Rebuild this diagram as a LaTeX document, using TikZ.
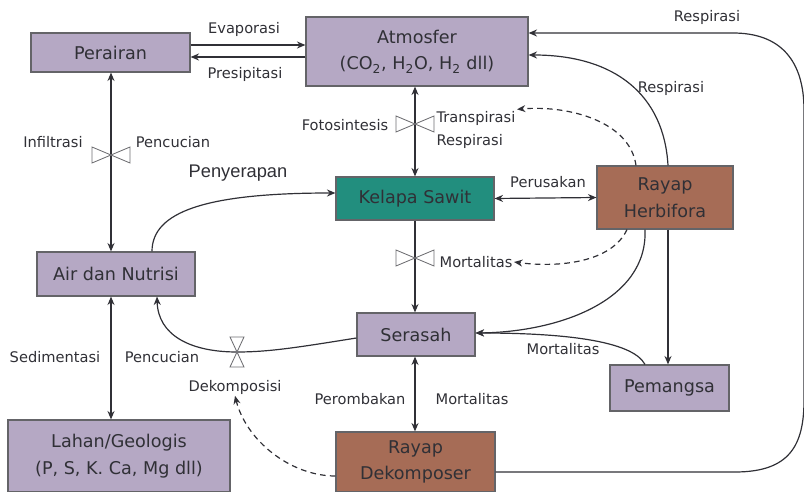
\documentclass[tikz,border=0pt]{standalone}
\usepackage{fontspec}
\setmainfont{DejaVu Sans}
\newfontfamily\arialfont{Liberation Sans}
\usetikzlibrary{positioning}
\usetikzlibrary{arrows.meta}

\definecolor{lavender}{RGB}{181,168,196}
\definecolor{sawitgreen}{RGB}{34,142,126}
\definecolor{rayapbrown}{RGB}{166,108,86}
\definecolor{inkgray}{RGB}{48,48,54}

\begin{document}
\begin{tikzpicture}[x=0.025cm, y=-0.025cm,
    box/.style={draw=inkgray!75, line width=0.8pt, align=center, text=inkgray,
        font=\fontsize{12.5}{19}\selectfont, inner sep=0pt},
    lbl/.style={text=inkgray, align=center, font=\fontsize{10.4}{17}\selectfont, inner sep=1pt},
    flow/.style={draw=inkgray, line width=0.85pt, -{Stealth[length=6pt,width=5pt]}},
    both/.style={flow, {Stealth[length=6pt,width=5pt]}-{Stealth[length=6pt,width=5pt]}},
    hint/.style={flow, dashed, dash pattern=on 4pt off 3pt},
    valve/.style={draw=inkgray!70, fill=white, line width=0.6pt},
    valveh/.pic={\draw[valve] (-19,-8) -- (19,8) -- (19,-8) -- (-19,8) -- cycle;},
    valvev/.pic={\draw[valve] (-7,-15) -- (7,15) -- (-7,15) -- (7,-15) -- cycle;}]
    \useasboundingbox (0,0) rectangle (804,492);

    % boxes
    \node[box, fill=lavender, minimum width=3.975cm, minimum height=0.975cm] (perairan) at (110.5,52.5) {Perairan};
    \node[box, fill=lavender, minimum width=5.55cm, minimum height=1.725cm] (atmosfer) at (417,51.5)
        {Atmosfer\\(CO\textsubscript{2}, H\textsubscript{2}O, H\textsubscript{2} dll)};
    \node[box, fill=sawitgreen, minimum width=3.95cm, minimum height=1.075cm] (sawit) at (415,198.5) {Kelapa Sawit};
    \node[box, fill=rayapbrown, minimum width=3.4cm, minimum height=1.575cm] (herbi) at (665,197.5) {Rayap\\Herbifora};
    \node[box, fill=lavender, minimum width=3.95cm, minimum height=1.1cm] (air) at (116,274) {Air dan Nutrisi};
    \node[box, fill=lavender, minimum width=2.95cm, minimum height=1.075cm] (serasah) at (416,334.5) {Serasah};
    \node[box, fill=lavender, minimum width=2.975cm, minimum height=1.15cm] (pemangsa) at (669.5,388) {Pemangsa};
    \node[box, fill=lavender, minimum width=5.55cm, minimum height=1.8cm] (lahan) at (119,456) {Lahan/Geologis\\(P, S, K. Ca, Mg dll)};
    \node[box, fill=rayapbrown, minimum width=3.975cm, minimum height=1.5cm] (dekomposer) at (415.5,462) {Rayap\\Dekomposer};

    % straight flows
    \draw[flow] (perairan.east |- 0,45) -- (atmosfer.west |- 0,45);
    \draw[flow] (atmosfer.west |- 0,57) -- (perairan.east |- 0,57);
    \draw[both] (perairan.south -| 111,0) -- (air.north -| 111,0);
    \draw[both] (air.south -| 111,0) -- (lahan.north -| 111,0);
    \draw[both] (atmosfer.south -| 415,0) -- (sawit.north -| 415,0);
    \draw[both] (sawit.east) -- (herbi.west);
    \draw[flow] (sawit.south -| 415,0) -- (serasah.north -| 415,0);
    \draw[both] (serasah.south -| 415,0) -- (dekomposer.north -| 415,0);
    \draw[flow] (herbi.south -| 668,0) -- (pemangsa.north -| 668,0);

    % curved flows
    \draw[flow] (air.north -| 152,0) .. controls (152,212) and (205,193) .. (sawit.west |- 0,193);
    \draw[flow] (serasah.west |- 0,338) .. controls (300,347) and (270,352) .. (237,352)
        .. controls (190,352) and (158,335) .. (air.south -| 157,0);
    \draw[flow] (herbi.north -| 668,0) .. controls (664,95) and (615,55) .. (atmosfer.east |- 0,55);
    \draw[flow] (herbi.south -| 645,0) .. controls (648,300) and (560,332) .. (serasah.east |- 0,333);
    \draw[flow] (pemangsa.north -| 645,0) .. controls (632,340) and (560,333) .. (serasah.east |- 0,333);
    \draw[flow] (dekomposer.east |- 0,472) -- (735,472) .. controls (790,472) and (804,445) .. (804,400)
        -- (804,110) .. controls (804,60) and (780,33) .. (733,33) -- (atmosfer.east |- 0,33);

    % valves
    \pic at (111,155) {valveh};
    \pic at (415,124) {valveh};
    \pic at (415,258) {valveh};
    \pic at (237,352) {valvev};

    % labels
    \node[lbl] (evaporasi) at (244,29) {Evaporasi};
    \node[lbl] (presipitasi) at (245,74) {Presipitasi};
    \node[lbl] (infiltrasi) at (53,142) {Infiltrasi};
    \node[lbl] (pencucian1) at (173,142) {Pencucian};
    \node[lbl, font=\arialfont\fontsize{13}{15}\selectfont] (penyerapan) at (238,173) {Penyerapan};
    \node[lbl] (fotosintesis) at (345,125) {Fotosintesis};
    \node[lbl, align=left] (transpirasi) at (476,130) {Transpirasi\\Respirasi};
    \node[lbl] (respirasi1) at (707,17) {Respirasi};
    \node[lbl] (respirasi2) at (671,88) {Respirasi};
    \node[lbl] (perusakan) at (548,182) {Perusakan};
    \node[lbl] (mortalitas1) at (476,262) {Mortalitas};
    \node[lbl] (mortalitas2) at (563,349) {Mortalitas};
    \node[lbl] (mortalitas3) at (472,399) {Mortalitas};
    \node[lbl] (perombakan) at (360,399) {Perombakan};
    \node[lbl] (sedimentasi) at (55,357) {Sedimentasi};
    \node[lbl] (pencucian2) at (162,357) {Pencucian};
    \node[lbl] (dekomposisi) at (235,387) {Dekomposisi};

    % dashed influences
    \draw[hint] (herbi.north -| 636,0) .. controls (630,122) and (570,105) .. (transpirasi.north east);
    \draw[hint] (herbi.south -| 627,0) .. controls (612,262) and (560,268) .. (mortalitas1.east);
    \draw[hint] (dekomposer.west |- 0,476) .. controls (290,476) and (246,440) .. (dekomposisi.south);
\end{tikzpicture}
\end{document}
